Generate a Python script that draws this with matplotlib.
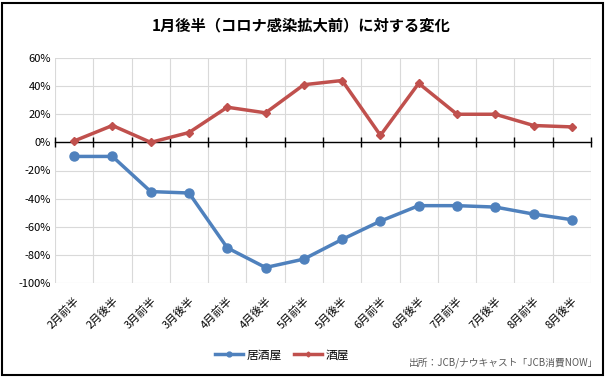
import matplotlib
matplotlib.use("Agg")
import matplotlib.pyplot as plt
from matplotlib.patches import Rectangle
from matplotlib.lines import Line2D

plt.rcParams['font.family'] = ['Noto Sans CJK JP', 'DejaVu Sans']

# データ
periods = ['2月前半', '2月後半', '3月前半', '3月後半', '4月前半', '4月後半', '5月前半',
           '5月後半', '6月前半', '6月後半', '7月前半', '7月後半', '8月前半', '8月後半']
izakaya = [-10, -10, -35, -36, -75, -89, -83, -69, -56, -45, -45, -46, -51, -55]
sakaya = [1, 12, 0, 7, 25, 21, 41, 44, 5, 42, 20, 20, 12, 11]

blue = '#4F81BD'
red = '#C0504D'

W, H = 605, 384
fig = plt.figure(figsize=(W / 100, H / 100), dpi=100)
ax = fig.add_axes([55 / W, 1 - 283 / H, (591 - 55) / W, (283 - 58) / H])

x = [i + 0.5 for i in range(len(periods))]
ax.plot(x, izakaya, color=blue, lw=2.5, marker='o', ms=6.5, label='居酒屋', zorder=3)
ax.plot(x, sakaya, color=red, lw=2.5, marker='D', ms=4.5, label='酒屋', zorder=3)

ax.set_xlim(0, len(periods))
ax.set_ylim(-100, 60)
ax.set_yticks(range(-100, 61, 20))
ax.set_yticklabels([f'{v}%' for v in range(-100, 61, 20)], fontsize=8)
ax.grid(True, color='#D9D9D9', lw=0.8)
ax.set_axisbelow(True)

# x軸は0%の位置に
for s in ['top', 'right', 'left']:
    ax.spines[s].set_visible(False)
ax.spines['bottom'].set_position(('data', 0))
ax.spines['bottom'].set_linewidth(1.0)
ax.set_xticks(range(len(periods) + 1))
ax.tick_params(axis='x', direction='inout', length=7, width=1.0, labelbottom=False)
ax.tick_params(axis='y', length=0, pad=3)

sec = ax.secondary_xaxis('bottom')
sec.set_xticks(x)
sec.set_xticklabels(periods, rotation=45, ha='right', rotation_mode='anchor', fontsize=8)
sec.tick_params(length=0, pad=9)
sec.spines['bottom'].set_visible(False)

fig.text(0.497, 1 - 25 / H, '1月後半（コロナ感染拡大前）に対する変化',
         ha='center', va='center', fontsize=11, fontweight='bold')

handles = [Line2D([], [], color=blue, lw=2.5, marker='o', ms=3.5),
           Line2D([], [], color=red, lw=2.5, marker='D', ms=2.5)]
fig.legend(handles, ['居酒屋', '酒屋'], loc='center', bbox_to_anchor=(282 / W, 1 - 355 / H),
           ncol=2, frameon=False, fontsize=8.5, handlelength=2.4, handletextpad=0.3,
           columnspacing=1.0)

fig.text(598 / W, 1 - 363 / H, '出所：JCB/ナウキャスト「JCB消費NOW」', ha='right', va='center',
         fontsize=7, color='#595959')

fig.patches.append(Rectangle((2 / W, 1 - 375 / H), 601 / W, 372 / H, transform=fig.transFigure,
                             fill=False, edgecolor='black', lw=1.5))

fig.savefig('out.png', dpi=100)
